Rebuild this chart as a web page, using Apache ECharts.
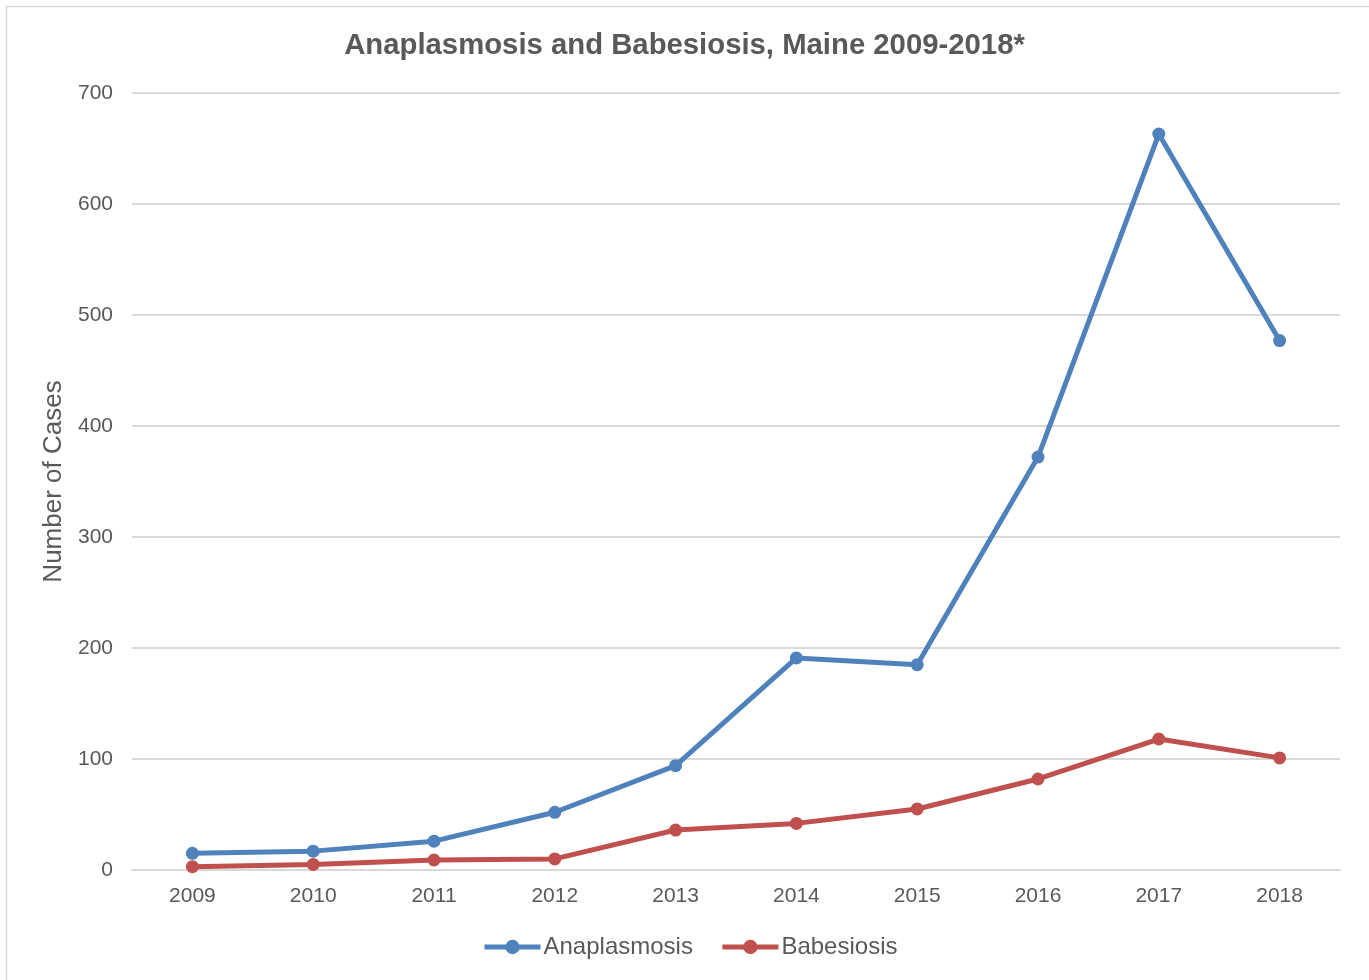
<!DOCTYPE html>
<html><head><meta charset="utf-8">
<script src="https://cdn.jsdelivr.net/npm/echarts@6/dist/echarts.min.js"></script>
<style>html,body{margin:0;padding:0;background:#fff}#c{width:1369px;height:980px}</style>
</head><body><div id="c"></div>
<script>
const years = ['2009','2010','2011','2012','2013','2014','2015','2016','2017','2018'];
const anaplasmosis = [15, 17, 26, 52, 94, 191, 185, 372, 663, 477];
const babesiosis = [3, 5, 9, 10, 36, 42, 55, 82, 118, 101];
const chart = echarts.init(document.getElementById('c'));
const font = 'Liberation Sans, Arial, sans-serif';
chart.setOption({
  animation: false,
  backgroundColor: '#fff',
  graphic: [{type:'rect', shape:{x:6.5,y:6.5,width:1400,height:1000}, style:{fill:'none', stroke:'#d9d9d9', lineWidth:1.5}}],
  title: {text:'Anaplasmosis and Babesiosis, Maine 2009-2018*', left:'center', top:26,
    textStyle:{fontFamily:font, fontSize:29.3, fontWeight:'bold', color:'#595959'}},
  grid: {left:132, right:29, top:93, bottom:110},
  legend: {bottom:16, left:477, itemWidth:56, itemHeight:18, itemGap:27,
    textStyle:{fontFamily:font, fontSize:24, color:'#595959', padding:[0,0,0,-2]},
    lineStyle:{width:5},
    data:['Anaplasmosis','Babesiosis']},
  xAxis: {type:'category', data:years, boundaryGap:true,
    axisLine:{show:true, lineStyle:{color:'#d9d9d9', width:2}}, axisTick:{show:false},
    axisLabel:{fontFamily:font, fontSize:21, color:'#595959', margin:16}},
  yAxis: {type:'value', min:0, max:700, interval:100, name:'Number of Cases', nameLocation:'middle', nameGap:62,
    nameTextStyle:{fontFamily:font, fontSize:26, color:'#595959'},
    axisLine:{show:false}, axisTick:{show:false},
    axisLabel:{fontFamily:font, fontSize:21, color:'#595959', margin:19},
    splitLine:{lineStyle:{color:'#d9d9d9', width:2}}},
  series: [
    {name:'Anaplasmosis', type:'line', data:anaplasmosis, symbol:'circle', symbolSize:13,
      lineStyle:{width:5, color:'#4F81BD'}, itemStyle:{color:'#4F81BD'}},
    {name:'Babesiosis', type:'line', data:babesiosis, symbol:'circle', symbolSize:13,
      lineStyle:{width:5, color:'#C0504D'}, itemStyle:{color:'#C0504D'}}
  ]
});
</script></body></html>
